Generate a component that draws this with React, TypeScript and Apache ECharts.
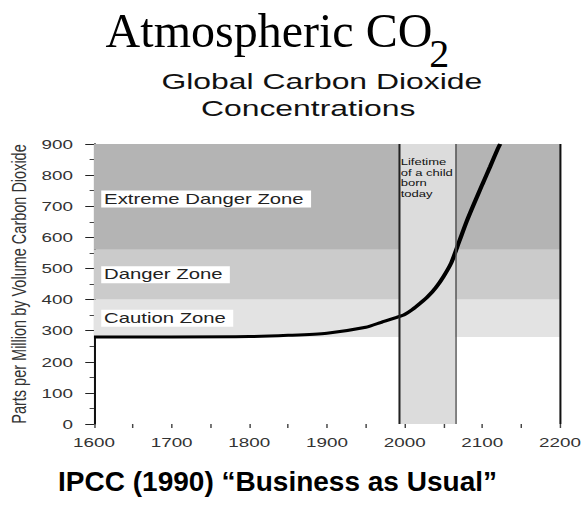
import React, { useEffect, useRef } from "react";
import * as echarts from "echarts";

// ---- data ----
const YEARS = [1600, 1700, 1800, 1850, 1900, 1950, 1970, 1990, 2000, 2010, 2020, 2030, 2040, 2050, 2060, 2070, 2080, 2090, 2100, 2110, 2120, 2123];
const CO2_PPM = [280, 280, 281, 285, 292, 311, 327, 343, 352, 368, 388, 410, 438, 474, 518, 585, 652, 712, 770, 827, 885, 900];
const ZONE_NAMES = ["Caution Zone", "Danger Zone", "Extreme Danger Zone"];
const ZONE_FROM = [280, 400, 560];
const ZONE_TO = [400, 560, 900];
const LIFETIME_YEARS = [1993, 2065];
const LIFETIME_LABEL = "Lifetime\nof a child\nborn\ntoday";
const X_MIN = 1600;
const X_MAX = 2200;
const Y_MIN = 0;
const Y_MAX = 900;
const TITLE = "Atmospheric CO";
const TITLE_SUB = "2";
const SUBTITLE_1 = "Global Carbon Dioxide";
const SUBTITLE_2 = "Concentrations";
const FOOTER = "IPCC (1990) \u201cBusiness as Usual\u201d";
const Y_NAME = "Parts per Million by Volume Carbon Dioxide";

// ---- styles ----
const SX = 1.45; // horizontal stretch of the chart picture
const W = 404;
const H = 506;
const ZONE_COLORS = ["#e3e3e3", "#cbcbcb", "#b4b4b4"];
const SANS = "'Liberation Sans', Arial, sans-serif";
const SERIF = "'Liberation Serif', 'Times New Roman', serif";

export default function App() {
  const ref = useRef<HTMLDivElement>(null);
  useEffect(() => {
    if (!ref.current) return;
    const chart = echarts.init(ref.current, null, { renderer: "svg" });
    const inv = 1 / SX;
    const zoneAreas: any[] = ZONE_NAMES.map((name, i) => [
      {
        name,
        xAxis: X_MIN,
        yAxis: ZONE_FROM[i],
        itemStyle: { color: ZONE_COLORS[i] },
        label: {
          show: true,
          position: "insideLeft",
          distance: 5,
          offset: i === 2 ? [0, 2] : [0, 0],
          backgroundColor: "#ffffff",
          padding: [2, 5, 1, 2],
          fontSize: 14,
          fontFamily: SANS,
          color: "#222",
        },
      },
      { xAxis: X_MAX, yAxis: ZONE_TO[i] },
    ]);
    zoneAreas.push([
      {
        name: LIFETIME_LABEL,
        xAxis: LIFETIME_YEARS[0],
        yAxis: Y_MIN,
        itemStyle: { color: "#dcdcdc" },
        label: {
          show: true,
          position: [1, 13],
          fontSize: 9,
          lineHeight: 10.5,
          fontFamily: SANS,
          color: "#111",
          align: "left",
          verticalAlign: "top",
        },
      },
      { xAxis: LIFETIME_YEARS[1], yAxis: Y_MAX },
    ]);

    const txt = (text: string, x: number, y: number, font: string, align: string, scale?: number, fill = "#000") => ({
      type: "text",
      x,
      y,
      scaleX: scale ?? 1,
      style: {
        text,
        font,
        fill,
        textAlign: align,
        textVerticalAlign: "middle",
        align,
        verticalAlign: "middle",
      },
    });

    chart.setOption({
      animation: false,
      grid: { left: 64.8, right: 17.8, top: 144, bottom: 82, containLabel: false, outerBoundsMode: "none" },
      graphic: [
        txt(TITLE, 185.5, 31, `48px ${SERIF}`, "center", inv),
        txt(TITLE_SUB, 296, 53.5, `40px ${SERIF}`, "left", inv),
        txt(SUBTITLE_1, 222, 81, `22px ${SANS}`, "center", 1, "#111"),
        txt(SUBTITLE_2, 212.5, 108, `22px ${SANS}`, "center", 1, "#111"),
        txt(FOOTER, 191.4, 482, `bold 28px ${SANS}`, "center", inv),
      ],
      xAxis: {
        type: "value",
        min: X_MIN,
        max: X_MAX,
        interval: 50,
        axisLine: { show: false },
        axisTick: { show: true, length: 4, lineStyle: { color: "#444", width: 1 } },
        axisLabel: {
          margin: 12,
          fontSize: 13,
          fontFamily: SANS,
          color: "#333",
          formatter: (v: number) => (v % 100 === 0 ? String(v) : ""),
        },
        splitLine: { show: false },
      },
      yAxis: {
        type: "value",
        min: Y_MIN,
        max: Y_MAX,
        interval: 100,
        name: Y_NAME,
        nameLocation: "middle",
        nameRotate: 90,
        nameGap: 44,
        nameMoveOverlap: false,
        nameTextStyle: { fontSize: 14.5, fontFamily: SANS, color: "#333" },
        axisLine: { show: true, lineStyle: { color: "#111", width: 1.4 } },
        axisTick: { show: true, length: 6, lineStyle: { color: "#222", width: 1 } },
        minorTick: { show: true, splitNumber: 2, length: 3, lineStyle: { color: "#444", width: 1 } },
        axisLabel: { margin: 14.5, fontSize: 13, fontFamily: SANS, color: "#333" },
        splitLine: { show: false },
      },
      series: [
        {
          type: "line",
          name: "zones",
          data: [[X_MIN, ZONE_FROM[0]]],
          showSymbol: false,
          lineStyle: { width: 0 },
          silent: true,
          markArea: { silent: true, data: zoneAreas },
        },
        {
          type: "line",
          name: "CO2",
          z: 3,
          data: YEARS.map((y, i) => [y, CO2_PPM[i]]),
          showSymbol: false,
          smooth: 0.25,
          lineStyle: { color: "#000", width: 3 },
          markLine: {
            silent: true,
            symbol: ["none", "none"],
            label: { show: false },
            data: [
              [
                { coord: [LIFETIME_YEARS[0], Y_MIN], lineStyle: { color: "#222", width: 1.4, type: "solid" } },
                { coord: [LIFETIME_YEARS[0], Y_MAX] },
              ],
              [
                { coord: [LIFETIME_YEARS[1], Y_MIN], lineStyle: { color: "#555", width: 1, type: "solid" } },
                { coord: [LIFETIME_YEARS[1], Y_MAX] },
              ],
              [
                { coord: [X_MAX, Y_MIN], lineStyle: { color: "#111", width: 1.4, type: "solid" } },
                { coord: [X_MAX, Y_MAX] },
              ],
            ],
          },
        },
      ],
    });
    return () => chart.dispose();
  }, []);

  return (
    <div style={{ position: "fixed", left: 0, top: 0, width: 585, height: H, overflow: "hidden", background: "#fff" }}>
      <div
        ref={ref}
        style={{ width: W, height: H, transform: `scaleX(${SX})`, transformOrigin: "0 0" }}
      />
    </div>
  );
}
